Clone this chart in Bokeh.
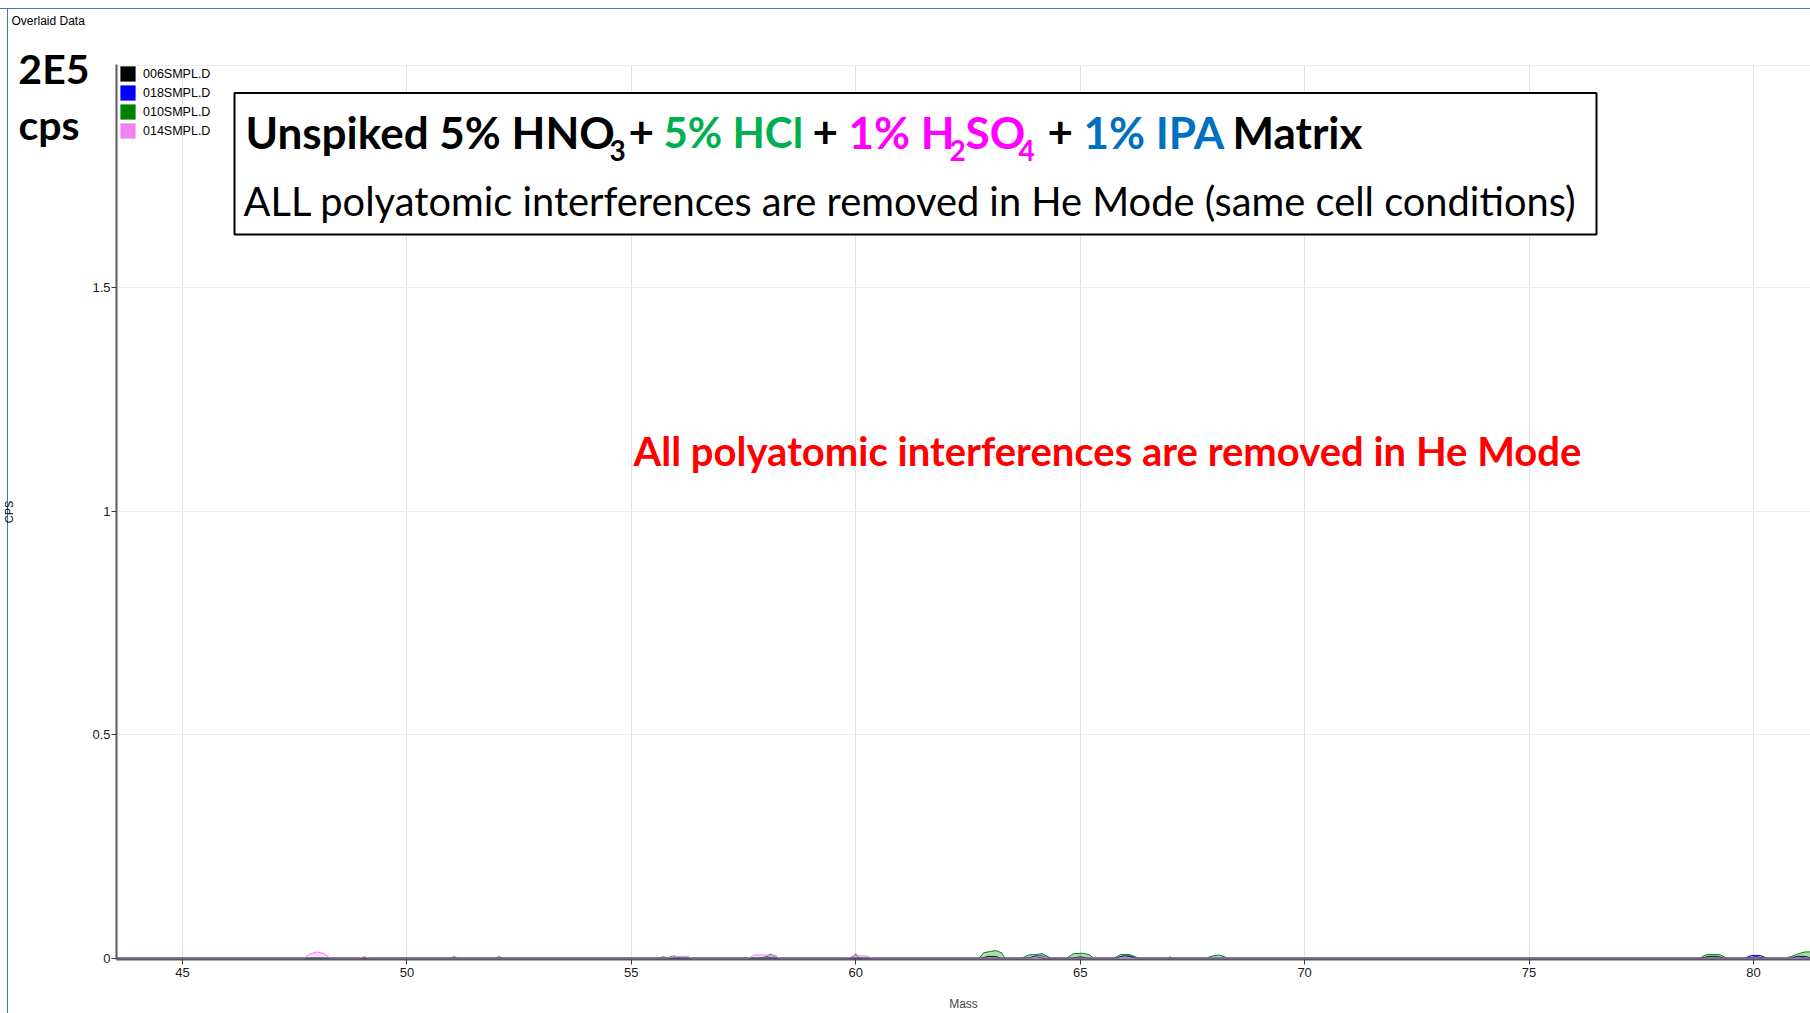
from bokeh.plotting import figure
from bokeh.models import Range1d, FixedTicker, Label, BoxAnnotation, Legend, LegendItem, LinearAxis
from bokeh.embed import file_html
from bokeh.resources import INLINE

# ---------------- data ----------------
legend_names = ["006SMPL.D", "018SMPL.D", "010SMPL.D", "014SMPL.D"]
series_colors = ["#000000", "#0000ff", "#008000", "#ee82ee"]

# values in units of 1E5 cps
mass_006 = [43.5, 62.8, 62.95, 63.1, 63.25, 63.8, 64.0, 64.2, 64.8, 65.0, 65.2,
            65.8, 65.95, 66.1, 66.25, 78.85, 79.0, 79.2, 79.35, 79.85, 80.05, 80.25,
            80.8, 81.0, 81.15, 81.3]
cps_006 = [0, 0, 0.004, 0.004, 0, 0, 0.003, 0, 0, 0.003, 0,
           0, 0.004, 0.004, 0, 0, 0.004, 0.004, 0, 0, 0.003, 0,
           0, 0.004, 0.004, 0]

mass_018 = [43.5, 57.85, 58.0, 58.15, 63.85, 64.0, 64.15, 64.3, 65.8, 65.95, 66.1,
            66.25, 79.8, 79.95, 80.15, 80.3, 80.85, 81.0, 81.15, 81.3]
cps_018 = [0, 0, 0.003, 0, 0, 0.005, 0.005, 0, 0, 0.005, 0.005,
           0, 0, 0.006, 0.006, 0, 0, 0.004, 0, 0]

mass_010 = [43.5,
            50.95, 51.05, 51.15,
            51.95, 52.05, 52.15,
            55.6, 55.7, 55.8, 55.95, 56.1,
            57.95, 58.1, 58.25,
            59.9, 60.0, 60.1,
            62.75, 62.85, 63.0, 63.12, 63.25, 63.32,
            63.7, 63.85, 64.0, 64.15, 64.35,
            64.7, 64.85, 65.05, 65.2, 65.3,
            65.75, 65.9, 66.1, 66.3,
            66.95, 67.0, 67.05,
            67.8, 67.95, 68.1, 68.3,
            78.8, 78.95, 79.25, 79.4,
            80.7, 80.85, 81.0, 81.15, 81.3]
cps_010 = [0,
           0, 0.003, 0,
           0, 0.003, 0,
           0, 0.003, 0.001, 0.005, 0,
           0, 0.009, 0,
           0, 0.009, 0,
           0, 0.012, 0.015, 0.017, 0.012, 0,
           0, 0.007, 0.008, 0.010, 0,
           0, 0.010, 0.011, 0.008, 0,
           0, 0.008, 0.008, 0,
           0, 0.003, 0,
           0, 0.005, 0.007, 0,
           0, 0.008, 0.008, 0,
           0, 0.004, 0.010, 0.014, 0.014]

mass_014 = [43.5,
            47.7, 47.85, 48.0, 48.15, 48.3,
            48.95, 49.05, 49.15,
            55.8, 55.95, 56.25, 56.35,
            57.6, 57.75, 58.2, 58.3,
            59.8, 59.95, 60.25, 60.35,
            63.9, 64.1, 64.3,
            65.85, 66.0, 66.15,
            81.3]
cps_014 = [0,
           0, 0.010, 0.014, 0.010, 0,
           0, 0.004, 0,
           0, 0.004, 0.004, 0,
           0, 0.007, 0.007, 0,
           0, 0.005, 0.005, 0,
           0, 0.004, 0,
           0, 0.003, 0,
           0]

series_mass = [mass_006, mass_018, mass_010, mass_014]
series_cps = [cps_006, cps_018, cps_010, cps_014]

x_ticks = [45, 50, 55, 60, 65, 70, 75, 80]
y_ticks = [0, 0.5, 1, 1.5]
y_tick_labels = ["0", "0.5", "1", "1.5"]
y_grid_ticks = [0.5, 1, 1.5, 1.998]
scale_text = ["2E5", "cps\u00a0"]          # full-scale note at the top of the y axis
scale_text_pos = [1.991, 1.866]

# ---------------- figure ----------------
p = figure(width=1810, height=1013, title="Overlaid Data\n\u00a0\n\u00a0",
           x_range=Range1d(43.53, 81.27), y_range=Range1d(-0.003, 2.0),
           output_backend="svg", toolbar_location=None,
           min_border_left=115, min_border_right=0, min_border_top=64, min_border_bottom=54)
p.background_fill_color = "white"
p.border_fill_alpha = 0
p.outline_line_color = None
p.styles = {"background": "linear-gradient(#4275c6,#4275c6) 0 8px / 100% 1px no-repeat, "
                          "linear-gradient(#4275c6,#4275c6) 7px 8px / 1px 100% no-repeat, #ffffff"}

p.title.text_font = "Liberation Sans"
p.title.text_font_size = "12px"
p.title.text_font_style = "normal"
p.title.text_color = "#000000"
p.title.align = "left"
p.title.vertical_align = "top"
p.title.offset = -105
p.title.standoff = 14

p.xgrid.ticker = FixedTicker(ticks=x_ticks)
p.xgrid.grid_line_color = "#e0e0e0"
p.ygrid.ticker = FixedTicker(ticks=y_grid_ticks)
p.ygrid.grid_line_color = "#ececec"

p.xaxis.ticker = FixedTicker(ticks=x_ticks)
p.yaxis.ticker = FixedTicker(ticks=y_ticks)
p.yaxis.major_label_overrides = {t: s for t, s in zip(y_ticks, y_tick_labels)}
for ax in (p.xaxis, p.yaxis):
    ax.axis_line_color = "#5a5a5a"
    ax.axis_line_width = 2
    ax.major_tick_line_color = "#3a3a3a"
    ax.major_tick_in = 0
    ax.minor_tick_line_color = None
    ax.major_label_text_font = "Liberation Sans"
    ax.major_label_text_font_size = "13px"
    ax.major_label_text_color = "#1a1a1a"
p.xaxis.major_tick_out = 5
p.xaxis.major_label_standoff = 3
p.yaxis.major_tick_out = 5
p.yaxis.major_label_standoff = 1
p.xaxis.axis_label = "Mass"
p.xaxis.axis_label_text_font = "Liberation Sans"
p.xaxis.axis_label_text_font_size = "12px"
p.xaxis.axis_label_text_font_style = "normal"
p.xaxis.axis_label_standoff = 17

# outer left axis: carries the full-scale note and the "CPS" title
scale_axis = LinearAxis(ticker=FixedTicker(ticks=scale_text_pos),
                        major_label_overrides={t: s for t, s in zip(scale_text_pos, scale_text)},
                        axis_line_color=None, major_tick_line_color=None, minor_tick_line_color=None,
                        major_tick_out=0, major_tick_in=0, major_label_standoff=0,
                        major_label_text_font="Lato", major_label_text_font_style="bold",
                        major_label_text_font_size="41px", major_label_text_color="#000000",
                        axis_label="CPS", axis_label_standoff=0,
                        axis_label_text_font="Liberation Sans", axis_label_text_font_size="11px",
                        axis_label_text_font_style="normal", axis_label_text_color="#000000")
p.add_layout(scale_axis, "left")

for m, c, col in zip(series_mass, series_cps, series_colors):
    p.varea(x=m, y1=[0] * len(m), y2=c, fill_color=col, fill_alpha=0.3)
    p.line(x=m, y=c, line_color=col, line_width=1)

nan = float("nan")
legend_renderers = [p.varea(x=[nan], y1=[nan], y2=[nan], fill_color=col, fill_alpha=1.0)
                    for col in series_colors]
legend = Legend(items=[LegendItem(label=n, renderers=[r])
                       for n, r in zip(legend_names, legend_renderers)],
                location=(2, 819), orientation="vertical", margin=0, padding=4, spacing=0,
                glyph_width=19, glyph_height=19, label_height=19, label_standoff=6,
                label_text_font="Liberation Sans", label_text_font_size="12.5px",
                label_text_color="#000000", background_fill_alpha=0, border_line_color=None)
p.add_layout(legend)

# ---------------- annotations ----------------
p.add_layout(BoxAnnotation(left=234, right=1596, top=92.5, bottom=234,
                           left_units="canvas", right_units="canvas",
                           top_units="canvas", bottom_units="canvas",
                           fill_color="white", fill_alpha=1.0,
                           line_color="black", line_alpha=1.0, line_width=2))


def add_text(txt, x, y, size, color="#000000", style="normal", font="Lato"):
    p.add_layout(Label(x=x, y=y, x_units="canvas", y_units="canvas", text=txt,
                       text_font=font, text_font_size=size, text_font_style=style,
                       text_color=color, text_align="left", text_baseline="alphabetic"))


GREEN, MAGENTA, BLUE, RED = "#00b050", "#ff00ff", "#0070c0", "#ff0000"
S1, SS = "44px", "28px"
L1, LS = 131, 150
add_text("Unspiked 5% HNO", 245, L1, S1, style="bold")
add_text("3", 609, LS, SS, style="bold")
add_text("+", 628, L1, S1, style="bold")
add_text("5% HCl", 663, L1, "42px", GREEN, "bold")
add_text("+", 812, L1, S1, style="bold")
add_text("1% H", 848, L1, S1, MAGENTA, "bold")
add_text("2", 949, LS, SS, MAGENTA, "bold")
add_text("SO", 965, L1, S1, MAGENTA, "bold")
add_text("4", 1018, LS, SS, MAGENTA, "bold")
add_text("+", 1047, L1, S1, style="bold")
add_text("1% IPA", 1083, L1, S1, BLUE, "bold")
add_text("Matrix", 1232, L1, S1, style="bold")
add_text("ALL polyatomic interferences are removed in He Mode (same cell conditions)",
         243, 200, "39.8px")

add_text("All polyatomic interferences are removed in He Mode", 633, 450, "40px", RED, "bold")

open("out.html", "w").write(file_html(p, INLINE))
